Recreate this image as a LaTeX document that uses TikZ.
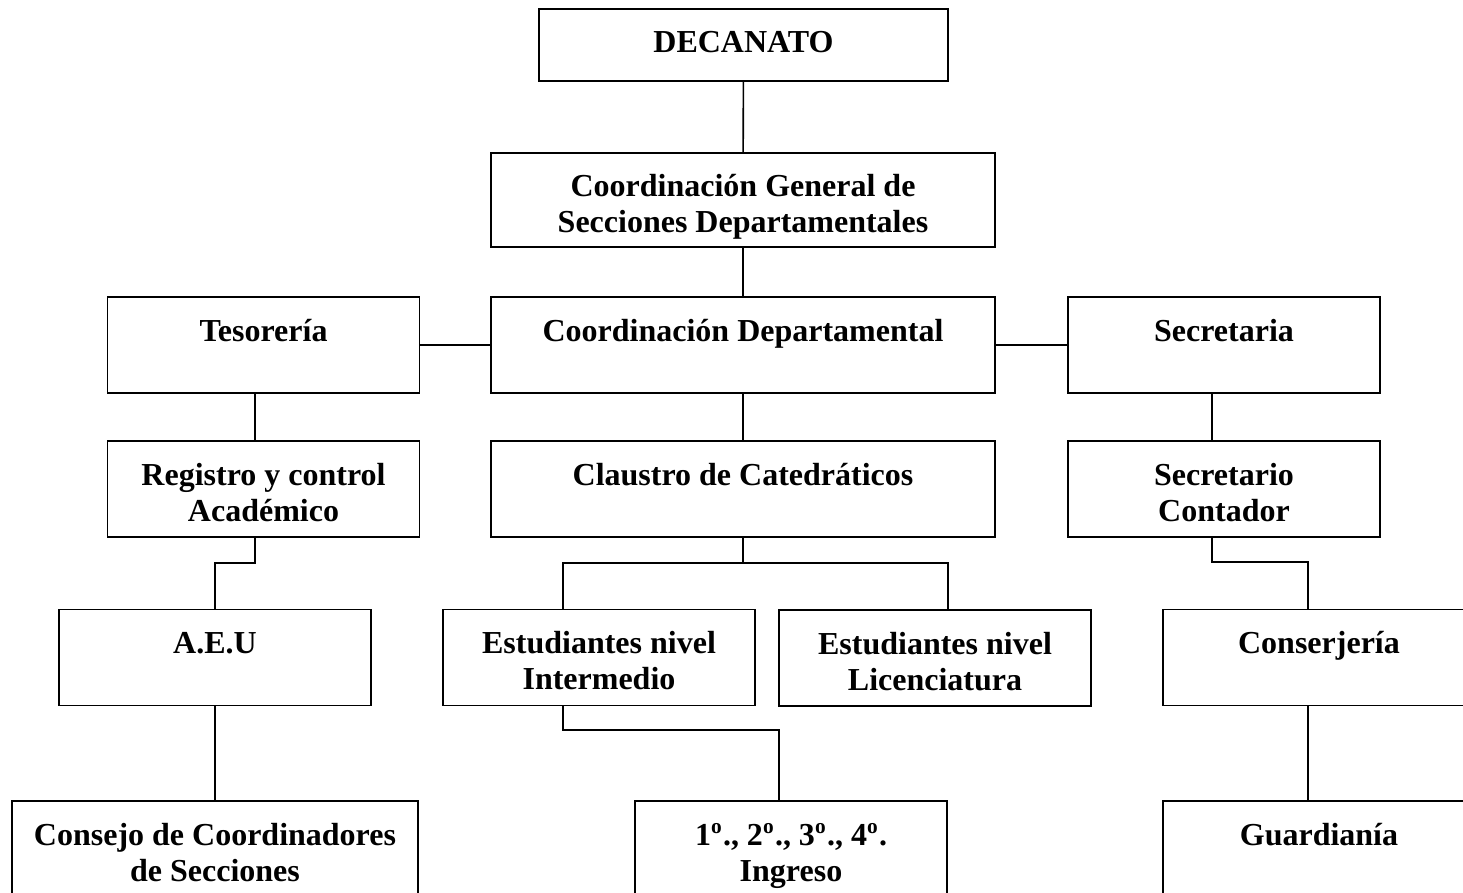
\documentclass[tikz,border=0pt]{standalone}
\usepackage{fontspec}
\setmainfont{Liberation Serif}
\usetikzlibrary{calc}
\newcommand\tope{\rule{0pt}{14.6pt}}
\tikzset{
  caja/.style={draw, line width=0.6pt, align=center, inner sep=0pt,
    minimum width=117pt, minimum height=36pt,
    font=\bfseries\fontsize{12}{13.5}\selectfont,
    execute at end node=\strut},
  ancha/.style={caja, minimum width=189pt},
  linea/.style={line width=0.6pt}
}
\begin{document}
\begin{tikzpicture}[x=0.375pt, y=-0.375pt]
            \useasboundingbox (0,0) rectangle (1463,893);
            \clip (0,0) rectangle (1463,893);
            % cajas
            \node [caja, minimum width=153.4pt, minimum height=27pt] (deca) at (743.5,45) {\strut DECANATO};
            \node [ancha, minimum height=35.25pt] (cgen) at (743,200) {\tope Coordinación General de\\Secciones Departamentales};
            \node [caja] (teso) at (263.5,345) {\tope Tesorería\\};
            \node [ancha] (cdep) at (743,345) {\tope Coordinación Departamental\\};
            \node [caja] (secr) at (1224,345) {\tope Secretaria\\};
            \node [caja] (regi) at (263.5,489) {\tope Registro y control\\Académico};
            \node [ancha] (clau) at (743,489) {\tope Claustro de Catedráticos\\};
            \node [caja] (seco) at (1224,489) {\tope Secretario\\Contador};
            \node [caja] (aeu) at (215,657.5) {\tope A.E.U\\};
            \node [caja] (einter) at (599,657.5) {\tope Estudiantes nivel\\Intermedio};
            \node [caja] (elic) at (935,658) {\tope Estudiantes nivel\\Licenciatura};
            \node [caja] (conse) at (1319,657.5) {\tope Conserjería\\};
            \node [caja, minimum width=152.25pt] (consejo) at (215,849) {\tope Consejo de Coordinadores\\de Secciones};
            \node [caja] (grados) at (791,849) {\tope 1\textsuperscript{o}., 2\textsuperscript{o}., 3\textsuperscript{o}., 4\textsuperscript{o}.\\Ingreso};
            \node [caja] (guard) at (1319,849) {\tope Guardianía\\};
            % lineas
            \draw [linea] (deca) -- (cgen);
            \draw [linea] (cgen) -- (cdep);
            \draw [linea] (teso) -- (cdep);
            \draw [linea] (cdep) -- (secr);
            \draw [linea] (cdep) -- (clau);
            \draw [linea] ($(teso.south)+(-8.5,0)$) -- ($(regi.north)+(-8.5,0)$);
            \draw [linea] ($(secr.south)+(-12,0)$) -- ($(seco.north)+(-12,0)$);
            \draw [linea] ($(regi.south)+(-8.5,0)$) -- ++(0,25) -| (aeu.north);
            \draw [linea] (clau.south) -- ++(0,26);
            \draw [linea] ($(einter.north)+(-36,0)$) |- ($(elic.north)+(13,-46)$) -- ($(elic.north)+(13,0)$);
            \draw [linea] ($(seco.south)+(-12,0)$) -- ++(0,24) -| ($(conse.north)+(-11,0)$);
            \draw [linea] (aeu) -- (consejo);
            \draw [linea] ($(einter.south)+(-36,0)$) -- ++(0,24) -| ($(grados.north)+(-12,0)$);
            \draw [linea] ($(conse.south)+(-11,0)$) -- ($(guard.north)+(-11,0)$);
        \end{tikzpicture}
\end{document}
